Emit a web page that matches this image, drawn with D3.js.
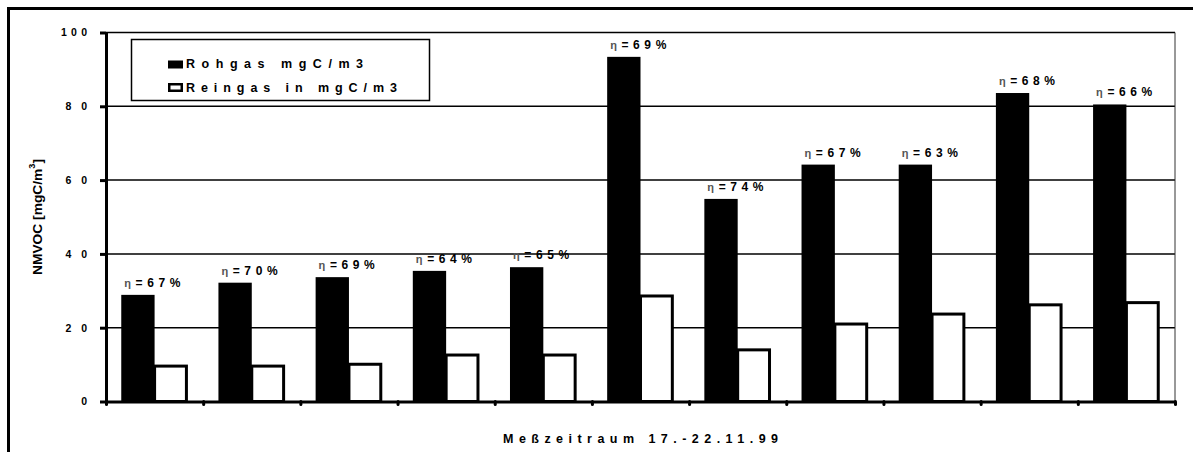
<!DOCTYPE html>
<html>
<head>
<meta charset="utf-8">
<script src="https://cdn.jsdelivr.net/npm/d3@7"></script>
<style>
  body { margin: 0; background: #fff; }
  svg { display: block; }
</style>
</head>
<body>
<svg id="chart" width="1193" height="452"></svg>
<script>
// Measurement runs, 17.-22.11.99
const categories = ["1", "2", "3", "4", "5", "6", "7", "8", "9", "10", "11"];
// Raw gas NMVOC (mgC/m3)
const rohgas = [28.9, 32.2, 33.7, 35.4, 36.4, 93.4, 54.9, 64.2, 64.2, 83.6, 80.5];
// Clean gas NMVOC (mgC/m3)
const reingas = [10.0, 10.0, 10.5, 13.0, 13.0, 29.0, 14.4, 21.4, 24.1, 26.6, 27.2];
// Removal efficiency in percent
const efficiency = [67, 70, 69, 64, 65, 69, 74, 67, 63, 68, 66];
const yTicks = [0, 20, 40, 60, 80, 100];
const seriesNames = ["Rohgas mgC/m3", "Reingas in mgC/m3"];

const FONT = "'Liberation Sans', Arial, Helvetica, sans-serif";
const svg = d3.select("#chart");
const plot = { left: 106, right: 1175, top: 32.5, bottom: 401.5 };

const x = d3.scaleBand().domain(categories).range([plot.left, plot.right]);
const xEdge = d3.scaleLinear().domain([0, categories.length]).range([plot.left, plot.right]);
const y = d3.scaleLinear().domain([0, 100]).range([plot.bottom, plot.top]);

// outer frame
svg.append("path")
  .attr("d", "M8.5,452 V8.5 H1193")
  .attr("fill", "none").attr("stroke", "#000").attr("stroke-width", 3);

// horizontal gridlines
svg.append("g").selectAll("line")
  .data(yTicks.filter(d => d > 0))
  .join("line")
  .attr("x1", plot.left).attr("x2", plot.right)
  .attr("y1", d => y(d)).attr("y2", d => y(d))
  .attr("stroke", "#000").attr("stroke-width", 1.5);

// right edge of plot area
svg.append("line")
  .attr("x1", plot.right).attr("x2", plot.right)
  .attr("y1", plot.top).attr("y2", plot.bottom)
  .attr("stroke", "#333").attr("stroke-width", 1);

// bars
const bw = x.bandwidth();
const barW = bw * 0.343;
const off = (bw - 2 * barW) / 2;

svg.append("g").selectAll("rect")
  .data(categories)
  .join("rect")
  .attr("x", (c) => x(c) + off)
  .attr("y", (c, i) => y(rohgas[i]))
  .attr("width", barW)
  .attr("height", (c, i) => plot.bottom - y(rohgas[i]))
  .attr("fill", "#000");

svg.append("g").selectAll("rect")
  .data(categories)
  .join("rect")
  .attr("x", (c) => x(c) + off + barW)
  .attr("y", (c, i) => y(reingas[i]) + 1.5)
  .attr("width", barW - 1.5)
  .attr("height", (c, i) => plot.bottom - y(reingas[i]) - 1.5)
  .attr("fill", "#fff").attr("stroke", "#000").attr("stroke-width", 3);

// efficiency labels above the raw gas bars
const lab = svg.append("g").selectAll("text")
  .data(categories)
  .join("text")
  .attr("x", (c) => x(c) + off + 3)
  .attr("y", (c, i) => y(rohgas[i]) - 8)
  .attr("font-family", FONT).attr("font-weight", "bold").attr("font-size", 12)
  .attr("letter-spacing", 4.6);
lab.append("tspan").attr("fill", "#555").attr("font-size", 11).text("η");
lab.append("tspan").text((c, i) => "=" + efficiency[i] + "%");

// y axis
const yAxis = svg.append("g")
  .attr("transform", `translate(${plot.left},0)`)
  .call(d3.axisLeft(y).tickValues(yTicks).tickSizeInner(6).tickSizeOuter(0).tickPadding(13));
yAxis.select(".domain").attr("stroke-width", 3);
yAxis.selectAll(".tick line").attr("stroke-width", 3);
yAxis.selectAll(".tick text")
  .attr("font-family", FONT).attr("font-weight", "bold").attr("font-size", 10.5)
  .attr("fill", "#000")
  .each(function (d) {
    const s = String(d);
    if (s.length > 1) {
      d3.select(this).attr("textLength", s.length === 3 ? 26 : 21.6).attr("lengthAdjust", "spacing");
    }
  });

// x axis with ticks on the category boundaries
const xAxis = svg.append("g")
  .attr("transform", `translate(0,${plot.bottom})`)
  .call(d3.axisBottom(xEdge).tickValues(d3.range(categories.length + 1))
    .tickSizeInner(3).tickSizeOuter(0).tickFormat(""));
xAxis.select(".domain").attr("stroke-width", 3);
xAxis.selectAll(".tick line").attr("stroke-width", 3).attr("stroke-linecap", "round");

// axis titles
svg.append("text")
  .attr("x", (plot.left + plot.right) / 2).attr("y", 443)
  .attr("text-anchor", "middle")
  .attr("font-family", FONT).attr("font-weight", "bold").attr("font-size", 12.5)
  .attr("textLength", 275).attr("lengthAdjust", "spacing")
  .text("Meßzeitraum 17.-22.11.99");

const yt = svg.append("text")
  .attr("transform", "translate(42,217) rotate(-90)")
  .attr("text-anchor", "middle")
  .attr("font-family", FONT).attr("font-weight", "bold").attr("font-size", 13.5)
  .attr("textLength", 116).attr("lengthAdjust", "spacingAndGlyphs");
yt.append("tspan").text("NMVOC [mgC/m");
yt.append("tspan").attr("font-size", 9).attr("dy", -7).text("3");
yt.append("tspan").attr("dy", 7).text("]");

// legend
const legend = svg.append("g");
legend.append("rect")
  .attr("x", 131.5).attr("y", 39.5).attr("width", 298).attr("height", 61)
  .attr("fill", "#fff").attr("stroke", "#000").attr("stroke-width", 1.5);
legend.append("rect")
  .attr("x", 168).attr("y", 60.5).attr("width", 15).attr("height", 8).attr("fill", "#000");
legend.append("rect")
  .attr("x", 169.25).attr("y", 84.25).attr("width", 12.5).attr("height", 6.5)
  .attr("fill", "#fff").attr("stroke", "#000").attr("stroke-width", 2.5);
legend.selectAll("text.entry")
  .data(seriesNames)
  .join("text")
  .attr("class", "entry")
  .attr("x", 186).attr("y", (d, i) => 68 + i * 24)
  .attr("font-family", FONT).attr("font-weight", "bold").attr("font-size", 12.5)
  .attr("textLength", (d, i) => i === 0 ? 177 : 211).attr("lengthAdjust", "spacing")
  .text(d => d);
</script>
</body>
</html>
